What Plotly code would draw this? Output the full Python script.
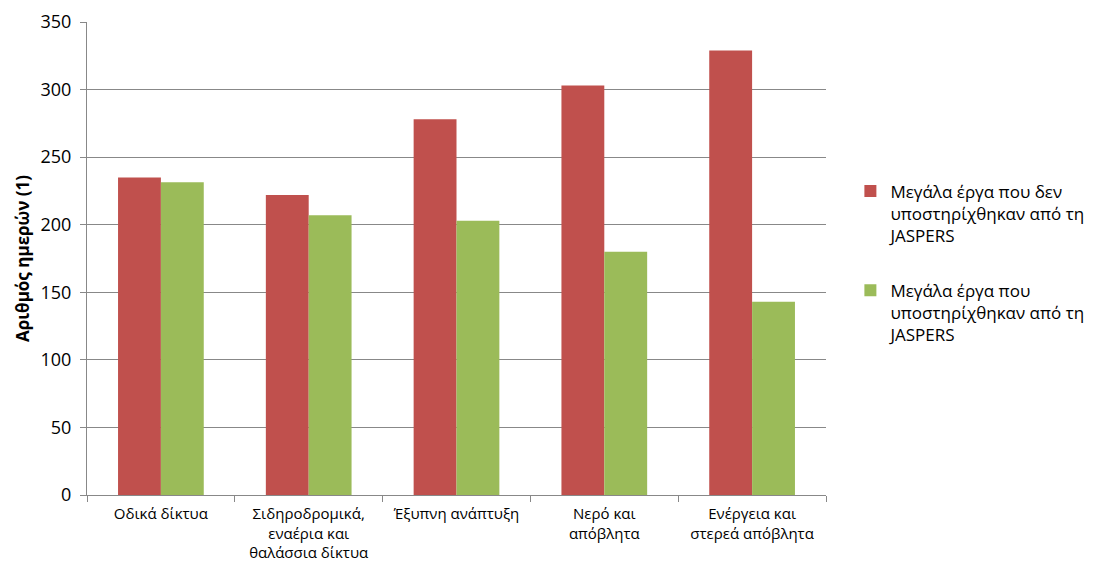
import plotly.graph_objects as go

categories = ["Οδικά δίκτυα", "Σιδηροδρομικά,<br>εναέρια και<br>θαλάσσια δίκτυα",
              "Έξυπνη ανάπτυξη", "Νερό και<br>απόβλητα", "Ενέργεια και<br>στερεά απόβλητα"]
not_supported = [235, 222, 278, 303, 329]
supported = [231.5, 207, 203, 180, 143]
series_names = ["Μεγάλα έργα που δεν<br>υποστηρίχθηκαν από τη<br>JASPERS",
                "Μεγάλα έργα που<br>υποστηρίχθηκαν από τη<br>JASPERS"]
y_ticks = [0, 50, 100, 150, 200, 250, 300, 350]

FONT = "Open Sans, Noto Sans, sans-serif"
GRID = "#888888"

fig = go.Figure()
fig.add_trace(go.Bar(x=categories, y=not_supported, name=series_names[0],
                     marker=dict(color="#C0504D", line=dict(width=0)), legendgroup="a"))
fig.add_trace(go.Bar(x=categories, y=supported, name=series_names[1],
                     marker=dict(color="#9BBB59", line=dict(width=0)), legendgroup="b"))

fig.update_layout(
    width=1099, height=573,
    margin=dict(l=87, r=273, t=22, b=78, autoexpand=False),
    paper_bgcolor="white", plot_bgcolor="white",
    font=dict(family=FONT, size=14, color="#000000"),
    barmode="group", bargap=0.42, bargroupgap=0,
    legend=dict(x=1.033, y=0.68, xanchor="left", yanchor="top",
                font=dict(family=FONT, size=17, color="#000000"),
                valign="top", tracegroupgap=30, itemwidth=30),
    xaxis=dict(showline=True, linecolor=GRID, linewidth=1,
               ticks="outside", tickson="boundaries", ticklen=6, tickcolor=GRID,
               showgrid=False, tickfont=dict(size=15), ticklabelstandoff=5),
    yaxis=dict(range=[0, 350], tickvals=y_ticks, showline=True, linecolor=GRID, linewidth=1,
               showgrid=True, gridcolor=GRID, gridwidth=1,
               ticks="outside", ticklen=6, tickcolor=GRID, tickfont=dict(size=18),
               ticklabelstandoff=5,
               title=dict(text="<b>Αριθμός ημερών (1)</b>", font=dict(size=17), standoff=6)),
)
fig.write_html("out.html")
